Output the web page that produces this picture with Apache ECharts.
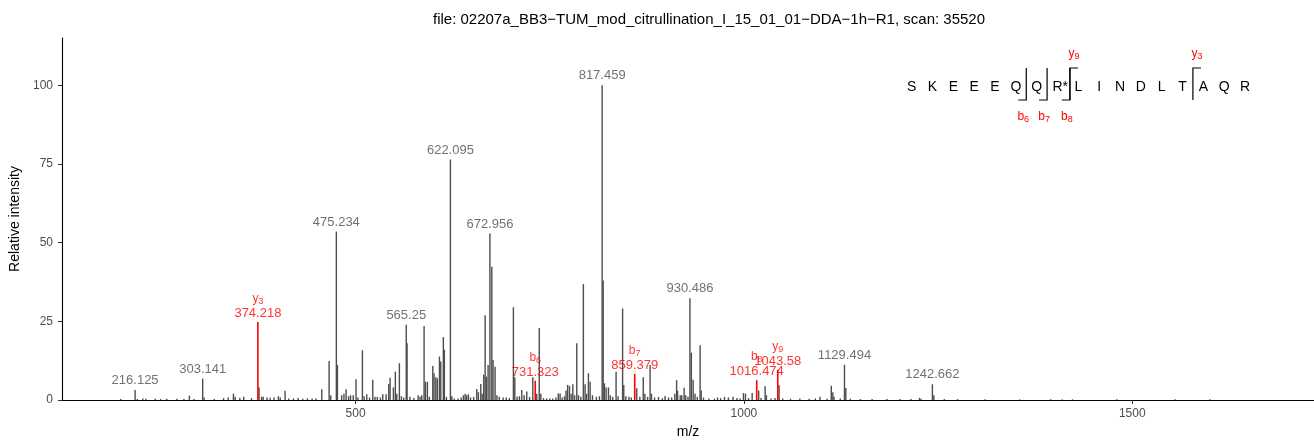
<!DOCTYPE html>
<html>
<head>
<meta charset="utf-8">
<script src="https://cdn.jsdelivr.net/npm/echarts@6/dist/echarts.min.js"></script>
<style>html,body{margin:0;padding:0;background:#fff}#c{width:1314px;height:440px}</style>
</head>
<body>
<div id="c"></div>
<script>
// ---- data ----
const peakMz = [197.6,216.125,219,226,230,242,249,257,270,279,286,292,303.141,305,318,330,336,342.7,345,351,356,366,375.7,379,381,386,390,395,400.6,403,409.2,414,420,426,432,438,444,449,456.5,465.9,468,475.234,476.6,482,485,487.8,491,493.5,497,500.6,503,508.8,511,514.4,518,522.1,525,528,532,535,539.3,542.7,544.4,548.7,551.2,553,556.4,559,562,565.25,566.3,570,575,580.5,583,585.2,588.2,590,592.5,595,599.4,601,603.3,605.3,608,609.7,613,614.3,617,622.095,623.9,627,632,636,638.8,641,643,645.2,648,652,656,658.1,661.2,663,665,666.8,668.4,670.6,672.956,675.4,677,679.6,682,685,690,694,698,703.2,705,708,711,714,717,720.4,724,728.2,733.3,736.5,738.5,742,746,750,754,758,761,763.3,766,769,771,773,775.4,777.5,779.7,782,784.8,787,790,793.3,795.5,797.5,799.8,802,805,810,814,817.459,818.8,820.4,822.6,825.6,828,831,835.4,838,843.8,845.3,848,852,855,862,866,870.4,872.5,876,879.2,881,885,890,895,898.5,903,907,911,913.3,914.6,918,920,923,925,928,930.486,932.3,934.6,937,940,943.6,945,948,955,962,966,970,975,980,986,991,995,999.4,1002,1006,1010.6,1019,1022,1027.3,1029,1035,1040,1045.3,1050,1060,1072,1084,1092,1098,1107,1112.5,1114.5,1116,1124,1129.494,1131.2,1137,1150,1165,1184,1201,1215,1226,1228,1242.662,1244.5,1258,1275,1310.6,1355,1395,1410,1423,1480,1555,1600];
const peakInt = [0.3,3.2,0.3,0.5,0.4,0.4,0.3,0.4,0.4,0.3,1.4,0.3,6.8,0.8,0.3,0.6,0.8,2.0,1.0,0.7,1.0,0.6,4.0,1.0,1.0,0.8,0.7,0.8,1.2,0.8,2.9,0.5,0.5,0.6,0.4,0.5,0.5,0.5,3.4,12.4,1.5,53.5,11.1,1.5,2.0,3.4,1.2,1.5,1.5,6.6,0.8,15.8,1.2,1.8,0.8,6.4,1.0,1.0,0.8,1.8,1.8,5.1,7.1,4.0,9.0,2.0,11.7,1.2,0.8,23.9,18.0,1.0,0.6,1.5,1.0,1.5,23.5,5.8,5.8,1.0,10.8,8.5,7.2,6.9,13.8,12.2,20.0,16.0,1.0,76.4,1.2,0.5,0.5,0.8,1.5,2.0,1.5,1.8,0.8,1.0,3.5,2.5,5.1,2.0,8.0,26.9,7.4,11.1,52.9,42.3,12.7,10.6,1.5,1.0,0.8,0.8,0.6,29.5,7.2,1.0,1.2,3.2,1.5,2.7,1.0,7.2,2.0,22.9,2.0,0.6,0.5,0.5,0.5,0.8,2.1,2.1,0.8,1.2,3.0,4.8,4.5,2.0,5.0,1.5,18.0,1.5,1.0,36.8,5.0,2.0,8.5,5.8,1.5,1.0,1.2,100,38,5.3,4.0,4.0,1.5,1.0,9.0,1.2,29.1,4.8,1.2,1.0,0.8,3.7,1.0,7.2,2.0,1.0,11.1,2.0,0.8,1.0,0.6,1.3,0.8,0.8,2.0,6.3,3.0,1.5,1.5,3.9,1.5,1.0,32.3,15.0,6.4,2.0,1.0,17.4,3.0,0.8,0.5,0.4,0.8,0.6,1.0,0.8,1.0,0.6,0.5,2.2,2.0,0.6,2.2,3.0,0.6,4.4,1.5,0.5,0.6,4.7,0.5,0.4,0.5,0.4,0.5,1.0,0.4,4.5,2.5,1.0,0.5,11.2,3.8,0.4,0.3,0.3,0.3,0.3,0.3,0.7,0.4,5.0,1.5,0.3,0.3,0.2,0.2,0.2,0.2,0.2,0.2,0.2,0.2];
const labeledMz = [216.125,303.141,475.234,565.25,622.095,672.956,817.459,930.486,1129.494,1242.662];
const ionMz = [374.218,731.323,859.379,1016.474,1043.58];
const ionInt = [24.8,6.1,8.3,6.3,9.6];
const ionType = ['y','b','b','b','y'];
const ionNum = [3,6,7,8,9];
const xTicks = [500,1000,1500];
const yTicks = [0,25,50,75,100];
const sequence = ['S','K','E','E','E','Q','Q','R*','L','I','N','D','L','T','A','Q','R'];
const bIons = [6,7,8];   // b-ion cleavage after residue n
const yIons = [9,3];     // y-ion index
const titleText = 'file: 02207a_BB3\u2212TUM_mod_citrullination_I_15_01_01\u2212DDA\u22121h\u2212R1, scan: 35520';

// ---- chart ----
const FONT = '"Liberation Sans", Arial, sans-serif';
const chart = echarts.init(document.getElementById('c'), null, {renderer: 'canvas'});

const peakData = peakMz.map((m, i) => [m, peakInt[i]]);
const labelData = labeledMz.map(m => [m, peakInt[peakMz.indexOf(m)]]);
const ionData = ionMz.map((m, i) => ({value: [m, ionInt[i]], name: ionType[i] + '|' + ionNum[i]}));

const subRich = {
  n: {fontSize: 12, color: '#ff0000', lineHeight: 15, fontFamily: FONT},
  s: {fontSize: 9, color: '#ff0000', lineHeight: 9, verticalAlign: 'bottom', fontFamily: FONT},
  v: {fontSize: 13, color: '#ff0000', lineHeight: 15, fontFamily: FONT}
};
const gRich = {
  n: {fontSize: 12, fill: '#ff0000', lineHeight: 15, fontFamily: FONT},
  s: {fontSize: 9, fill: '#ff0000', lineHeight: 9, verticalAlign: 'bottom', fontFamily: FONT}
};

function stick(color, width) {
  return function (params, api) {
    const top = api.coord([api.value(0), api.value(1)]);
    const base = api.coord([api.value(0), 0]);
    return {type: 'line', shape: {x1: base[0], y1: base[1], x2: top[0], y2: top[1]},
      style: {stroke: color, lineWidth: width}};
  };
}

// peptide annotation
const x0 = 911.7, step = 20.83, yc = 87, yTop = 68, yBot = 100;
const g = [];
g.push({type: 'text', x: 709, y: 20, style: {text: titleText, font: '15px ' + FONT, fill: '#000', textAlign: 'center', textVerticalAlign: 'middle'}});
sequence.forEach((s, i) => {
  const cx = x0 + i * step;
  if (s.length > 1) {
    g.push({type: 'text', x: cx - 5, y: yc, style: {text: s, font: '14px ' + FONT, fill: '#000', textAlign: 'left', textVerticalAlign: 'middle'}});
  } else {
    g.push({type: 'text', x: cx, y: yc, style: {text: s, font: '14px ' + FONT, fill: '#000', textAlign: 'center', textVerticalAlign: 'middle'}});
  }
});
const cut = k => x0 + (k - 1) * step + step / 2 + (k === 8 ? 2 : 0);
function ionText(x, y, t, k) {
  return {type: 'text', x: x, y: y, style: {text: '{n|' + t + '}{s|' + k + '}', rich: gRich, fill: '#ff0000', align: 'center', verticalAlign: 'middle'}};
}
bIons.forEach(k => {
  const cx = cut(k);
  g.push({type: 'polyline', shape: {points: [[cx, yTop], [cx, yBot], [cx - 8, yBot]]}, style: {stroke: '#000', lineWidth: 1.2, fill: null}});
  g.push(ionText(cx - 3, 117, 'b', k));
});
yIons.forEach(k => {
  const cx = cut(sequence.length - k);
  g.push({type: 'polyline', shape: {points: [[cx + 8, yTop], [cx, yTop], [cx, yBot]]}, style: {stroke: '#000', lineWidth: 1.2, fill: null}});
  g.push(ionText(cx + 4, 54, 'y', k));
});

const option = {
  animation: false,
  backgroundColor: '#fff',
  textStyle: {fontFamily: FONT},
  grid: {left: 62, right: 0, top: 38, bottom: 40, containLabel: false, outerBoundsMode: 'none'},
  xAxis: {
    type: 'value', min: 122, max: 1734,
    name: 'm/z', nameLocation: 'middle', nameGap: 25,
    nameTextStyle: {color: '#000', fontSize: 14, fontFamily: FONT},
    axisLine: {show: true, onZero: false, lineStyle: {color: '#000', width: 1.1}},
    axisTick: {show: true, length: 4, customValues: xTicks, lineStyle: {color: '#333'}},
    axisLabel: {customValues: xTicks, color: '#4d4d4d', fontSize: 12, margin: 8, fontFamily: FONT, formatter: v => String(v)},
    splitLine: {show: false}
  },
  yAxis: {
    type: 'value', min: 0, max: 115,
    name: 'Relative intensity', nameLocation: 'middle', nameGap: 34, nameRotate: 90,
    nameTextStyle: {color: '#000', fontSize: 14, fontFamily: FONT},
    axisLine: {show: true, lineStyle: {color: '#000', width: 1.1}},
    axisTick: {show: true, length: 4, customValues: yTicks, lineStyle: {color: '#333'}},
    axisLabel: {customValues: yTicks, color: '#4d4d4d', fontSize: 12, margin: 9, fontFamily: FONT, formatter: v => String(v)},
    splitLine: {show: false}
  },
  series: [
    {type: 'custom', renderItem: stick('#4d4d4d', 1.4), data: peakData, z: 2},
    {type: 'custom', renderItem: stick('#ff0000', 1.6), data: ionMz.map((m, i) => [m, ionInt[i]]), z: 3},
    {type: 'scatter', data: labelData, symbolSize: 0, z: 4,
      label: {show: true, position: 'top', distance: 3, color: '#4d4d4d', fontSize: 13, fontFamily: FONT,
        formatter: p => String(p.value[0])}},
    {type: 'scatter', data: ionData, symbolSize: 0, z: 5,
      label: {show: true, position: 'top', distance: 1, color: '#ff0000', fontFamily: FONT,
        formatter: p => {
          const parts = p.name.split('|');
          return '{n|' + parts[0] + '}{s|' + parts[1] + '}\n{v|' + p.value[0] + '}';
        },
        rich: subRich}}
  ],
  labelLayout: {hideOverlap: false},
  graphic: {elements: g}
};
chart.setOption(option);
</script>
</body>
</html>
